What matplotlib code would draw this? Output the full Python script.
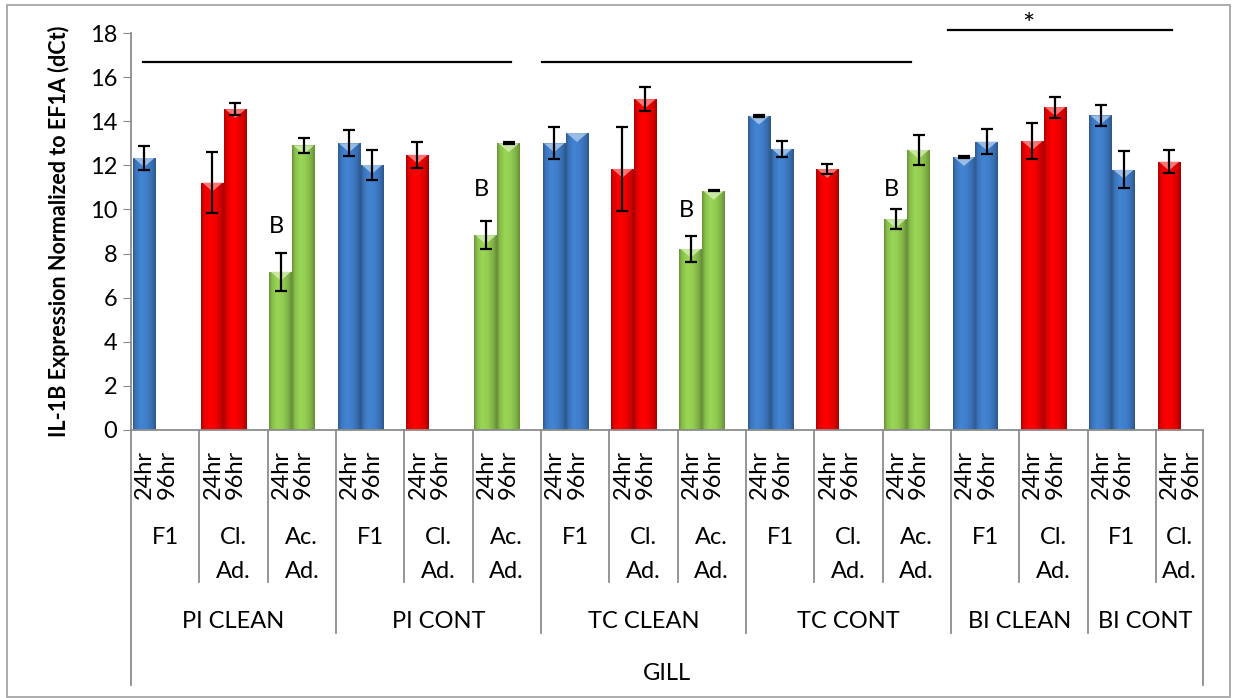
import numpy as np
import matplotlib.pyplot as plt
from matplotlib.patches import Polygon, Rectangle

plt.rcParams['font.family'] = ['Lato', 'DejaVu Sans']

# gill IL-1B, dCt relative to EF1A
sections = ['PI CLEAN', 'PI CONT', 'TC CLEAN', 'TC CONT', 'BI CLEAN', 'BI CONT']
section_sizes = [3, 3, 3, 3, 2, 2]
groups = ['F1', 'Cl. Ad.', 'Ac. Ad.', 'F1', 'Cl. Ad.', 'Ac. Ad.',
          'F1', 'Cl. Ad.', 'Ac. Ad.', 'F1', 'Cl. Ad.', 'Ac. Ad.',
          'F1', 'Cl. Ad.', 'F1', 'Cl. Ad.']
times = ['24hr', '96hr']

nan = np.nan
val_24 = [12.33, 11.22, 7.18, 13.00, 12.48, 8.83, 13.00, 11.84,
          8.21, 14.25, 11.83, 9.56, 12.37, 13.10, 14.26, 12.17]
err_24 = [0.55, 1.40, 0.86, 0.59, 0.60, 0.64, 0.72, 1.90,
          0.58, 0.05, 0.22, 0.44, 0.05, 0.81, 0.48, 0.54]
val_96 = [nan, 14.55, 12.90, 12.02, nan, 13.00, 13.46, 15.00,
          10.84, 12.75, nan, 12.70, 13.08, 14.64, 11.80, nan]
err_96 = [0, 0.27, 0.35, 0.68, 0, 0.05, 0, 0.53,
          0.02, 0.36, 0, 0.67, 0.58, 0.48, 0.85, 0]

# significance annotations
b_groups = [2, 5, 8, 11]
b_heights = [9.22, 10.89, 9.95, 10.89]
sig_lines = [(0.18, 5.56, 16.7), (6.01, 11.41, 16.7), (11.96, 15.24, 18.12)]
star_pos = (13.13, 18.3)

colors = {'F1': '#4384d4', 'Cl.': '#ff0000', 'Ac.': '#9ad655'}
xmax = 15.69
grey = '#8c8c8c'
fs = 17

fig = plt.figure(figsize=(12.33, 6.98), dpi=100)
ax = fig.add_axes([131/1233, 1 - 430/698, (1203-131)/1233, 397/698])

# shading across a bar: dark edges, bright left-centre
xs = np.linspace(0, 1, 60)
shade = np.interp(xs, [0, 0.12, 0.35, 0.6, 0.85, 1], [0.68, 0.88, 1.0, 0.96, 0.82, 0.66])


def shaded_bar(x0, w, h, base):
    rgb = np.array(plt.matplotlib.colors.to_rgb(base))
    patch = ax.bar(x0, h, w, align='edge', color=base, lw=0, zorder=2)[0]
    img = (rgb[None, :] * shade[:, None])[None, :, :]
    im = ax.imshow(img, extent=[x0, x0 + w, 0, h], aspect='auto', zorder=2.1,
                   interpolation='bilinear')
    im.set_clip_path(patch)
    # light bevel on top
    light = 1 - (1 - rgb) * 0.45
    tri = Polygon([[x0 + 0.05 * w, h], [x0 + 0.95 * w, h], [x0 + w / 2, h - 0.4]],
                  closed=True, color=light, alpha=0.85, lw=0, zorder=2.2)
    ax.add_patch(tri)


w = 0.335
off = [0.025, 0.025 + w]
for g, name in enumerate(groups):
    base = colors[name.split()[0]]
    for k, (vals, errs) in enumerate([(val_24, err_24), (val_96, err_96)]):
        v = vals[g]
        if np.isnan(v):
            continue
        x0 = g + off[k]
        shaded_bar(x0, w, v, base)
        if errs[g] > 0:
            ax.errorbar(x0 + w / 2, v, yerr=errs[g], color='black', lw=1.6,
                        capsize=4.5, capthick=1.6, zorder=4)

for g, h in zip(b_groups, b_heights):
    ax.text(g + 0.13, h, 'B', ha='center', va='center', fontsize=fs, zorder=5)

for x0, x1, y in sig_lines:
    ax.plot([x0, x1], [y, y], color='black', lw=1.6, clip_on=False, zorder=5)
ax.text(star_pos[0], star_pos[1], '*', ha='center', va='center', fontsize=21,
        clip_on=False)

ax.set_xlim(0, xmax)
ax.set_ylim(0, 18)
ax.set_yticks(np.arange(0, 19, 2))
ax.tick_params(axis='y', direction='out', length=6, color=grey, labelsize=fs, pad=4)
ax.set_xticks([])
for s in ['top', 'right']:
    ax.spines[s].set_visible(False)
for s in ['left', 'bottom']:
    ax.spines[s].set_color(grey)
    ax.spines[s].set_linewidth(1.3)

# category axis below the plot
tr = ax.get_xaxis_transform()


def ya(px):
    return (430 - px) / 397


bounds = np.concatenate([[0], np.cumsum(section_sizes)])
for g in range(1, len(groups)):
    bottom = 633 if g in bounds else 582
    ax.plot([g, g], [0, ya(bottom)], transform=tr, color=grey, lw=1.3, clip_on=False)
for x in (0, xmax):
    ax.plot([x, x], [0, ya(685)], transform=tr, color=grey, lw=1.3, clip_on=False)

for g, name in enumerate(groups):
    right = min(g + 1, xmax)
    for k, t in enumerate(times):
        ax.text(g + [0.2, 0.525][k], ya(499), t, rotation=90, ha='center', va='bottom',
                fontsize=fs, transform=tr, clip_on=False)
    for i, line in enumerate(name.split()):
        ax.text((g + right) / 2, ya(538 + 34 * i), line, ha='center', va='center',
                fontsize=fs, transform=tr, clip_on=False)

for i, sec in enumerate(sections):
    left, right = bounds[i], min(bounds[i + 1], xmax)
    ax.text((left + right) / 2, ya(622), sec, ha='center', va='center',
            fontsize=fs, transform=tr, clip_on=False)
ax.text(xmax / 2, ya(673), 'GILL', ha='center', va='center', fontsize=fs,
        transform=tr, clip_on=False)

fig.text(59/1233, 1 - 231/698, 'IL-1B Expression Normalized to EF1A (dCt)',
         rotation=90, ha='center', va='center', fontsize=15.5, fontweight='bold')

fig.add_artist(Rectangle((7/1233, 1/698), 1223/1233, 692/698, transform=fig.transFigure,
                         fill=False, edgecolor='#a6a6a6', lw=1.3))

fig.savefig('out.png', dpi=100)
